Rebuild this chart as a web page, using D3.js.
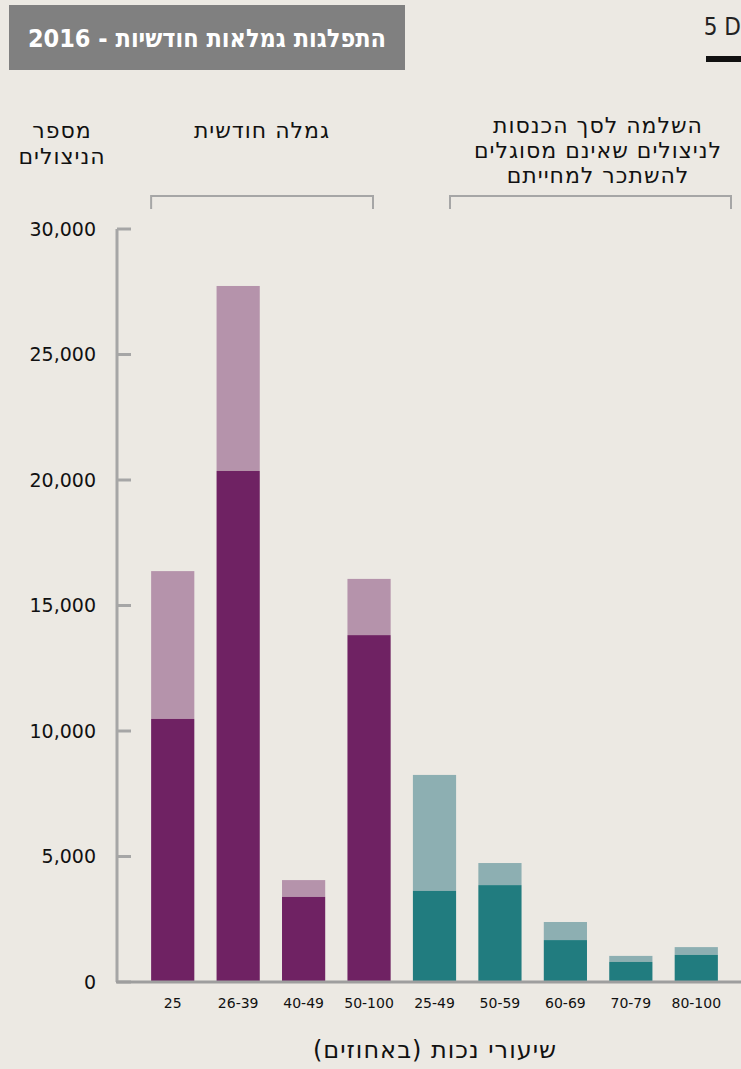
<!DOCTYPE html>
<html>
    <head>
        <meta charset="utf-8">
        <style>
            body { margin: 0; background: #ece9e3; }
            svg { display: block; }
            .heb { font-family: "DejaVu Sans", sans-serif; direction: rtl; unicode-bidi: embed; }
            .cond { font-family: "DejaVu Sans Condensed", "DejaVu Sans", sans-serif; font-stretch: condensed; }
        </style>
    </head>
    <body>
        <svg></svg>

        <script src="https://d3js.org/d3.v7.min.js"></script>

        <script>
            const categories = ["25", "26-39", "40-49", "50-100", "25-49", "50-59", "60-69", "70-79", "80-100"];
            const groups = ["pension", "pension", "pension", "pension", "supplement", "supplement", "supplement", "supplement", "supplement"];
            // lower (dark) part of each bar
            const darkValues = [10480, 20360, 3390, 13820, 3630, 3860, 1670, 800, 1080];
            // upper (light) part stacked on top
            const lightValues = [5890, 7370, 670, 2240, 4620, 880, 720, 240, 310];
            const yTicks = [0, 5000, 10000, 15000, 20000, 25000, 30000];

            const colors = {
                pension: { dark: "#6f2263", light: "#b593ab" },
                supplement: { dark: "#217c7f", light: "#8dafb2" }
            };

            const width = 741,
                height = 1069;

            const svg = d3.select("svg")
                .attr("width", width)
                .attr("height", height);

            const x = d3.scaleBand()
                .domain(categories)
                .range([140, 729])
                .paddingInner(0.34)
                .paddingOuter(0.17);

            const y = d3.scaleLinear()
                .domain([0, 30000])
                .range([982, 229]);

            // title box
            svg.append("rect")
                .attr("x", 9).attr("y", 5)
                .attr("width", 396).attr("height", 65)
                .attr("fill", "#808080");
            svg.append("text")
                .attr("class", "cond")
                .attr("x", 207).attr("y", 47)
                .attr("text-anchor", "middle")
                .attr("direction", "rtl")
                .attr("fill", "#fff")
                .attr("font-size", 25)
                .attr("font-weight", "bold")
                .text("התפלגות גמלאות חודשיות - 2016");

            svg.append("text")
                .attr("class", "cond")
                .attr("x", 741).attr("y", 35)
                .attr("text-anchor", "end")
                .attr("font-size", 24)
                .attr("fill", "#222")
                .text("5 D");
            svg.append("rect")
                .attr("x", 706).attr("y", 56)
                .attr("width", 35).attr("height", 6)
                .attr("fill", "#111");

            // y axis
            svg.append("line")
                .attr("x1", 117).attr("x2", 117)
                .attr("y1", y(30000)).attr("y2", y(0))
                .attr("stroke", "#a6a6a6").attr("stroke-width", 3);

            const ty = svg.selectAll(".ytick")
                .data(yTicks)
                .enter()
                .append("g")
                .attr("transform", function(d) { return "translate(0," + y(d) + ")"; });
            ty.append("line")
                .attr("x1", 117).attr("x2", 131)
                .attr("stroke", "#a6a6a6").attr("stroke-width", 3);
            ty.append("text")
                .attr("x", 96)
                .attr("dy", "0.35em")
                .attr("text-anchor", "end")
                .attr("font-family", "'DejaVu Sans', sans-serif")
                .attr("font-size", 19)
                .attr("fill", "#111")
                .text(function(d) { return d3.format(",")(d); });

            // bars
            const bars = svg.selectAll(".bar")
                .data(categories)
                .enter()
                .append("g");

            bars.append("rect")
                .attr("x", function(d) { return x(d); })
                .attr("width", x.bandwidth())
                .attr("y", function(d, i) { return y(darkValues[i] + lightValues[i]); })
                .attr("height", function(d, i) { return y(darkValues[i]) - y(darkValues[i] + lightValues[i]); })
                .attr("fill", function(d, i) { return colors[groups[i]].light; });

            bars.append("rect")
                .attr("x", function(d) { return x(d); })
                .attr("width", x.bandwidth())
                .attr("y", function(d, i) { return y(darkValues[i]); })
                .attr("height", function(d, i) { return y(0) - y(darkValues[i]); })
                .attr("fill", function(d, i) { return colors[groups[i]].dark; });

            bars.append("text")
                .attr("x", function(d) { return x(d) + x.bandwidth() / 2; })
                .attr("y", 1008)
                .attr("text-anchor", "middle")
                .attr("font-family", "'DejaVu Sans', sans-serif")
                .attr("font-size", 14)
                .attr("fill", "#111")
                .text(function(d) { return d; });

            // baseline
            svg.append("line")
                .attr("x1", 116).attr("x2", 741)
                .attr("y1", y(0)).attr("y2", y(0))
                .attr("stroke", "#9e9e9e").attr("stroke-width", 3);

            // group brackets
            [[x(categories[0]), 373], [450, 731]].forEach(function(b) {
                svg.append("path")
                    .attr("d", "M" + b[0] + ",209V196H" + b[1] + "V209")
                    .attr("fill", "none")
                    .attr("stroke", "#a6a6a6")
                    .attr("stroke-width", 2);
            });

            function label(lines, cx, y0, size, lh) {
                const t = svg.append("text")
                    .attr("class", "heb")
                    .attr("text-anchor", "middle")
                    .attr("font-size", size)
                    .attr("letter-spacing", 1)
                    .attr("fill", "#111");
                lines.forEach(function(l, i) {
                    t.append("tspan")
                        .attr("x", cx)
                        .attr("y", y0 + i * lh)
                        .text(l);
                });
            }
            label(["מספר", "הניצולים"], 62, 138, 22, 26);
            label(["גמלה חודשית"], 262, 138, 22, 25);
            label(["השלמה לסך הכנסות", "לניצולים שאינם מסוגלים", "להשתכר למחייתם"], 598, 133, 22, 25);
            label(["שיעורי נכות (באחוזים)"], 435, 1058, 24, 25);
        </script>
    </body>
</html>
